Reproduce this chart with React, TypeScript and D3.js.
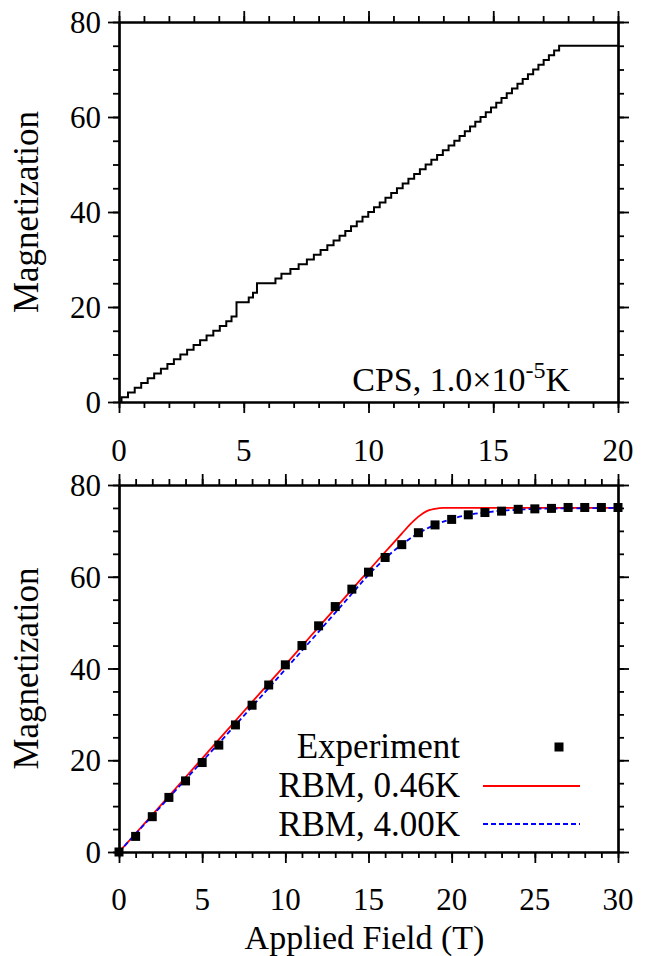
import React, { useEffect, useRef } from 'react';
import * as d3 from 'd3';

// top panel: CPS staircase (field in T, magnetization)
const stepField = [0, 0.10, 0.36, 0.63, 0.89, 1.15, 1.41, 1.68, 1.94, 2.20, 2.46, 2.73, 2.99, 3.25, 3.51, 3.78, 4.04, 4.30, 4.51, 4.71, 5.20, 5.37, 5.53, 6.27, 6.51, 6.87, 7.20, 7.53, 7.81, 8.08, 8.35, 8.60, 8.84, 9.07, 9.30, 9.53, 9.76, 9.99, 10.22, 10.45, 10.68, 10.91, 11.14, 11.37, 11.60, 11.83, 12.06, 12.29, 12.52, 12.75, 12.98, 13.21, 13.44, 13.65, 13.86, 14.07, 14.28, 14.49, 14.70, 14.91, 15.12, 15.33, 15.54, 15.75, 15.97, 16.18, 16.39, 16.60, 16.81, 17.02, 17.23, 17.44, 17.64, 20];
const stepMag = [0, 1, 2, 3, 4, 5, 6, 7, 8, 9, 10, 11, 12, 13, 14, 15, 16, 17, 18, 21, 22, 23, 25, 26, 27, 28, 29, 30, 31, 32, 33, 34, 35, 36, 37, 38, 39, 40, 41, 42, 43, 44, 45, 46, 47, 48, 49, 50, 51, 52, 53, 54, 55, 56, 57, 58, 59, 60, 61, 62, 63, 64, 65, 66, 67, 68, 69, 70, 71, 72, 73, 74, 75, 75];

// bottom panel
const expField = [0, 1, 2, 3, 4, 5, 6, 7, 8, 9, 10, 11, 12, 13, 14, 15, 16, 17, 18, 19, 20, 21, 22, 23, 24, 25, 26, 27, 28, 29, 30];
const expMag = [0, 3.4, 7.7, 11.9, 15.5, 19.5, 23.3, 27.7, 32.0, 36.4, 40.8, 45.0, 49.3, 53.5, 57.3, 61.0, 64.2, 67.0, 69.6, 71.3, 72.5, 73.5, 74.0, 74.3, 74.7, 74.8, 74.9, 75.1, 75.1, 75.1, 75.1];

const rbmField046 = [0, 2, 4, 6, 8, 10, 12, 14, 15, 16, 16.5, 17, 17.5, 18, 18.5, 19, 19.5, 20, 25, 30];
const rbmMag046 = [0, 8.1, 16.3, 24.5, 32.7, 40.8, 49.0, 57.2, 61.3, 65.4, 67.4, 69.4, 71.4, 73.1, 74.3, 74.8, 75.0, 75.0, 75.0, 75.0];

const rbmField400 = [0, 2, 4, 6, 8, 10, 12, 14, 15, 16, 17, 18, 19, 20, 21, 22, 23, 24, 25, 27, 30];
const rbmMag400 = [0, 7.9, 15.8, 23.7, 31.7, 39.8, 48.0, 56.3, 60.4, 64.0, 67.0, 69.5, 71.3, 72.6, 73.5, 74.0, 74.4, 74.6, 74.8, 74.9, 75.0];

const yTicks = [0, 20, 40, 60, 80];
const topXTicks = [0, 5, 10, 15, 20];
const botXTicks = [0, 5, 10, 15, 20, 25, 30];
const legendLabels = ['Experiment', 'RBM, 0.46K', 'RBM, 4.00K'];

const FONT = '"Liberation Serif", "Times New Roman", serif';
const TICK_FS = 31;
const TITLE_FS = 35;

export default function App() {
  const svgRef = useRef<SVGSVGElement | null>(null);

  useEffect(() => {
    if (!svgRef.current) return;
    const svg = d3.select(svgRef.current);
    svg.selectAll('*').remove();

    const left = 119;
    const right = 618;

    const drawFrame = (
      x: d3.ScaleLinear<number, number>,
      y: d3.ScaleLinear<number, number>,
      xMinor: number[],
      yMinor: number[],
      xMajor: number[]
    ) => {
      const [y0, y1] = y.range();
      const g = svg.append('g');
      const axes: [any, string][] = [
        [d3.axisBottom(x), `translate(0,${y0})`],
        [d3.axisTop(x), `translate(0,${y1})`],
      ];
      axes.forEach(([ax, tr]) => {
        g.append('g').attr('transform', tr)
          .call(ax.tickValues(xMinor).tickSize(6).tickSizeOuter(0).tickFormat(() => ''));
        g.append('g').attr('transform', tr)
          .call(ax.tickValues(xMajor).tickSize(11).tickSizeOuter(0).tickFormat(() => ''));
      });
      const yaxes: [any, string][] = [
        [d3.axisLeft(y), `translate(${left},0)`],
        [d3.axisRight(y), `translate(${right},0)`],
      ];
      yaxes.forEach(([ax, tr]) => {
        g.append('g').attr('transform', tr)
          .call(ax.tickValues(yMinor).tickSize(6).tickSizeOuter(0).tickFormat(() => ''));
        g.append('g').attr('transform', tr)
          .call(ax.tickValues(yTicks).tickSize(11).tickSizeOuter(0).tickFormat(() => ''));
      });
      g.selectAll('path.domain').attr('stroke', '#000').attr('stroke-width', 2.2);
      g.selectAll('.tick line').attr('stroke', '#000').attr('stroke-width', 1.8);

      // y tick labels
      g.selectAll('text.ylab')
        .data(yTicks)
        .enter()
        .append('text')
        .attr('x', 101)
        .attr('y', (d) => y(d))
        .attr('dy', '0.36em')
        .attr('text-anchor', 'end')
        .attr('font-family', FONT)
        .attr('font-size', TICK_FS)
        .text((d) => d);

      // y title
      g.append('text')
        .attr('transform', `translate(38,${(y0 + y1) / 2}) rotate(-90)`)
        .attr('text-anchor', 'middle')
        .attr('font-family', FONT)
        .attr('font-size', TITLE_FS)
        .text('Magnetization');
      return g;
    };

    // ---------- top panel ----------
    const xTop = d3.scaleLinear().domain([0, 20]).range([left, right]);
    const yTop = d3.scaleLinear().domain([0, 80]).range([402, 22]);
    const gTop = drawFrame(xTop, yTop, d3.range(0, 21, 1), d3.range(0, 81, 5), topXTicks);

    gTop.selectAll('text.xlab')
      .data(topXTicks)
      .enter()
      .append('text')
      .attr('x', (d) => xTop(d))
      .attr('y', 461)
      .attr('text-anchor', 'middle')
      .attr('font-family', FONT)
      .attr('font-size', TICK_FS)
      .text((d) => d);

    const stepLine = d3.line<number>()
      .x((d) => xTop(d))
      .y((_, i) => yTop(stepMag[i]))
      .curve(d3.curveStepAfter);

    gTop.append('path')
      .datum(stepField)
      .attr('fill', 'none')
      .attr('stroke', '#000')
      .attr('stroke-width', 2)
      .attr('d', stepLine);

    const ann = gTop.append('text')
      .attr('x', 570)
      .attr('y', 391)
      .attr('text-anchor', 'end')
      .attr('font-family', FONT)
      .attr('font-size', 34);
    ann.append('tspan').text('CPS, 1.0×10');
    ann.append('tspan').attr('dy', -13).attr('font-size', 24).text('-5');
    ann.append('tspan').attr('dy', 13).text('K');

    // ---------- bottom panel ----------
    const xBot = d3.scaleLinear().domain([0, 30]).range([left, right]);
    const yBot = d3.scaleLinear().domain([0, 80]).range([852, 485]);
    const gBot = drawFrame(xBot, yBot, d3.range(0, 31, 1), d3.range(0, 81, 5), botXTicks);

    gBot.selectAll('text.xlab')
      .data(botXTicks)
      .enter()
      .append('text')
      .attr('x', (d) => xBot(d))
      .attr('y', 910)
      .attr('text-anchor', 'middle')
      .attr('font-family', FONT)
      .attr('font-size', TICK_FS)
      .text((d) => d);

    gBot.append('text')
      .attr('x', (left + right) / 2 - 4)
      .attr('y', 949)
      .attr('text-anchor', 'middle')
      .attr('font-family', FONT)
      .attr('font-size', 34)
      .text('Applied Field (T)');

    const clip = svg.append('clipPath').attr('id', 'botclip');
    clip.append('rect').attr('x', left).attr('y', 485).attr('width', right - left).attr('height', 852 - 485);

    const redLine = d3.line<number>()
      .x((d) => xBot(d))
      .y((_, i) => yBot(rbmMag046[i]))
      .curve(d3.curveMonotoneX);
    const blueLine = d3.line<number>()
      .x((d) => xBot(d))
      .y((_, i) => yBot(rbmMag400[i]))
      .curve(d3.curveMonotoneX);

    gBot.append('path')
      .datum(rbmField046)
      .attr('fill', 'none')
      .attr('stroke', '#ff0000')
      .attr('stroke-width', 1.8)
      .attr('clip-path', 'url(#botclip)')
      .attr('d', redLine);

    gBot.append('path')
      .datum(rbmField400)
      .attr('fill', 'none')
      .attr('stroke', '#0000ff')
      .attr('stroke-width', 1.8)
      .attr('stroke-dasharray', '5,3')
      .attr('clip-path', 'url(#botclip)')
      .attr('d', blueLine);

    const ms = 9;
    gBot.selectAll('rect.pt')
      .data(expField)
      .enter()
      .append('rect')
      .attr('x', (d) => xBot(d) - ms / 2)
      .attr('y', (_, i) => yBot(expMag[i]) - ms / 2)
      .attr('width', ms)
      .attr('height', ms)
      .attr('fill', '#000');

    // legend
    const legY = [758, 797, 836];
    legendLabels.forEach((lab, i) => {
      gBot.append('text')
        .attr('x', 460)
        .attr('y', legY[i])
        .attr('text-anchor', 'end')
        .attr('font-family', FONT)
        .attr('font-size', TITLE_FS)
        .text(lab);
    });
    gBot.append('rect')
      .attr('x', 559 - ms / 2).attr('y', 747 - ms / 2)
      .attr('width', ms).attr('height', ms).attr('fill', '#000');
    gBot.append('line')
      .attr('x1', 483).attr('x2', 580).attr('y1', 786).attr('y2', 786)
      .attr('stroke', '#ff0000').attr('stroke-width', 1.8);
    gBot.append('line')
      .attr('x1', 483).attr('x2', 580).attr('y1', 824).attr('y2', 824)
      .attr('stroke', '#0000ff').attr('stroke-width', 1.8).attr('stroke-dasharray', '5,3');
  }, []);

  return (
    <svg
      ref={svgRef}
      width={654}
      height={956}
      viewBox="0 0 654 956"
      style={{ position: 'absolute', left: 0, top: 0, background: '#fff' }}
    />
  );
}
